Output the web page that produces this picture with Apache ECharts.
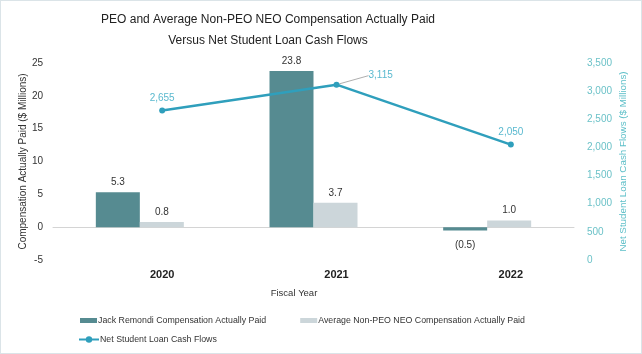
<!DOCTYPE html>
<html>
<head>
    <meta charset="UTF-8">
    <title>PEO Compensation vs Net Student Loan Cash Flows</title>
    <style>
        html, body { margin: 0; padding: 0; background: #fff; }
        #main { width: 642px; height: 354px; box-sizing: border-box; border: 1px solid #dbe4e8; }
    </style>
</head>
<body>
<div id="main"></div>
<script src="https://cdn.jsdelivr.net/npm/echarts@6/dist/echarts.min.js"></script>
<script>
    // 数据
    var years = ['2020', '2021', '2022'];
    var peoPaid = [5.3, 23.8, -0.5];
    var neoPaid = [0.8, 3.7, 1.0];
    var loanFlows = [2655, 3115, 2050];
    var leftTicks = [-5, 25, 5];      // min, max, interval
    var rightTicks = [0, 3500, 500];

    var seriesNames = ['Jack Remondi Compensation Actually Paid',
        'Average Non-PEO NEO Compensation Actually Paid',
        'Net Student Loan Cash Flows'];

    function barLabel(pos) {
        return {
            show: true,
            position: pos,
            color: '#333',
            fontSize: 10,
            formatter: function (p) {
                var v = p.value;
                return v < 0 ? '(' + Math.abs(v).toFixed(1) + ')' : v.toFixed(1);
            }
        };
    }

    var myChart = echarts.init(document.getElementById('main'));
    var option = {
        animation: false,
        textStyle: { fontFamily: 'Liberation Sans' },
        title: [
            {
                text: 'PEO and Average Non-PEO NEO Compensation Actually Paid\nVersus Net Student Loan Cash Flows',
                left: 262, top: 3, textAlign: 'center',
                textStyle: { fontSize: 12, fontWeight: 'normal', color: '#222', lineHeight: 21 }
            },
            {
                text: 'Fiscal Year',
                left: 288, top: 282, textAlign: 'center',
                textStyle: { fontSize: 9.5, fontWeight: 'normal', color: '#333' }
            }
        ],
        legend: [
            {
                data: [seriesNames[0], seriesNames[1]],
                left: 79, top: 315, padding: 0,
                itemWidth: 17, itemHeight: 5, itemGap: 34,
                icon: 'rect',
                textStyle: { fontSize: 8.8, color: '#333', padding: [0, 0, 0, -4] }
            },
            {
                data: [seriesNames[2]],
                left: 77, top: 334, padding: 0,
                itemWidth: 20, itemHeight: 8,
                textStyle: { fontSize: 8.8, color: '#333', padding: [0, 0, 0, -4] }
            }
        ],
        grid: [
            { left: 52, right: 67, top: 62, bottom: 93 },   // 柱
            { left: 74, right: 43, top: 62, bottom: 93 }    // 折线
        ],
        xAxis: [
            {
                type: 'category', gridIndex: 0, data: years,
                axisLine: { onZero: true, lineStyle: { color: '#d4d4d4' } },
                axisTick: { show: false },
                axisLabel: { show: false }
            },
            {
                type: 'category', gridIndex: 1, data: years,
                axisLine: { show: false },
                axisTick: { show: false },
                axisLabel: { color: '#222', fontSize: 11, fontWeight: 'bold', margin: 9 }
            }
        ],
        yAxis: [
            {
                type: 'value', gridIndex: 0,
                min: leftTicks[0], max: leftTicks[1], interval: leftTicks[2],
                name: 'Compensation Actually Paid ($ Millions)',
                nameLocation: 'middle', nameGap: 25, nameMoveOverlap: false,
                nameTextStyle: { fontSize: 10, color: '#333' },
                axisLine: { show: false }, axisTick: { show: false },
                splitLine: { show: false },
                axisLabel: { color: '#333', fontSize: 10, margin: 10 }
            },
            {
                type: 'value', gridIndex: 1, position: 'right', offset: -19,
                min: rightTicks[0], max: rightTicks[1], interval: rightTicks[2],
                name: 'Net Student Loan Cash Flows ($ Millions)',
                nameLocation: 'middle', nameGap: 39, nameMoveOverlap: false,
                nameTextStyle: { fontSize: 9.8, color: '#5dbfc8' },
                axisLine: { show: false }, axisTick: { show: false },
                splitLine: { show: false },
                axisLabel: {
                    color: '#6cc2c8', fontSize: 10, margin: 8,
                    formatter: function (v) { return v.toLocaleString('en-US'); }
                }
            }
        ],
        series: [
            {
                name: seriesNames[0], type: 'bar', xAxisIndex: 0, yAxisIndex: 0,
                // 负值标签放在柱子下面
                data: peoPaid.map(function (v) {
                    return v < 0 ? { value: v, label: { position: 'bottom', distance: 10 } } : v;
                }),
                barWidth: 44, barGap: '0%',
                itemStyle: { color: '#568b91' },
                label: barLabel('top')
            },
            {
                name: seriesNames[1], type: 'bar', xAxisIndex: 0, yAxisIndex: 0,
                data: neoPaid, barWidth: 44, barGap: '0%',
                itemStyle: { color: '#ccd6da' },
                label: barLabel('top')
            },
            {
                name: seriesNames[2], type: 'line', xAxisIndex: 1, yAxisIndex: 1,
                data: loanFlows.map(function (v, i) {
                    return i === 1 ? { value: v, labelLine: { show: true } } : v;
                }),
                symbol: 'circle', symbolSize: 6,
                lineStyle: { color: '#2f9fbc', width: 2.5 },
                itemStyle: { color: '#2f9fbc' },
                label: {
                    show: true, position: 'top', distance: 4,
                    color: '#5ab9cf', fontSize: 10,
                    formatter: function (p) { return p.value.toLocaleString('en-US'); }
                },
                labelLine: { show: false, lineStyle: { color: '#999', width: 0.8 } },
                labelLayout: function (p) {
                    if (p.dataIndex === 1) {
                        return { x: p.rect.x + p.rect.width / 2 + 32, y: p.rect.y - 11 };
                    }
                    return {};
                }
            }
        ]
    };
    myChart.setOption(option);
</script>
</body>
</html>
